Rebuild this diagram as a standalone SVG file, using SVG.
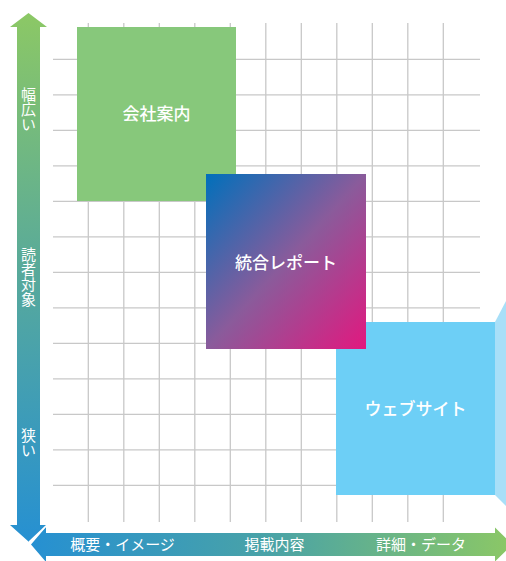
<svg xmlns="http://www.w3.org/2000/svg" width="506" height="561" viewBox="0 0 506 561">
<defs>
<linearGradient id="gV" x1="0" y1="0" x2="0" y2="1">
<stop offset="0" stop-color="#8cc865"/>
<stop offset="0.5" stop-color="#57a99c"/>
<stop offset="1" stop-color="#2690d2"/>
</linearGradient>
<linearGradient id="gH" x1="0" y1="0" x2="1" y2="0">
<stop offset="0" stop-color="#2690d2"/>
<stop offset="0.5" stop-color="#4aa3a6"/>
<stop offset="1" stop-color="#8cc865"/>
</linearGradient>
<linearGradient id="gR" x1="0" y1="0" x2="1" y2="1">
<stop offset="0" stop-color="#0070bb"/>
<stop offset="0.5" stop-color="#8a5b9b"/>
<stop offset="1" stop-color="#e2187f"/>
</linearGradient>
<style>
.grid line{stroke:#c8c8c8;stroke-width:1.3}
.lbl{font-family:"Noto Sans CJK JP","Noto Sans",sans-serif;fill:#ffffff;text-anchor:middle}
.box{font-size:17px;font-weight:500}
.ax{font-size:15px}
.vt{font-size:15px;writing-mode:vertical-rl;dominant-baseline:central}
</style>
</defs>
<rect width="506" height="561" fill="#ffffff"/>
<g class="grid" id="grid">
<line x1="88.3" y1="23" x2="88.3" y2="522"/>
<line x1="123.8" y1="23" x2="123.8" y2="522"/>
<line x1="159.3" y1="23" x2="159.3" y2="522"/>
<line x1="194.8" y1="23" x2="194.8" y2="522"/>
<line x1="230.3" y1="23" x2="230.3" y2="522"/>
<line x1="265.8" y1="23" x2="265.8" y2="522"/>
<line x1="301.3" y1="23" x2="301.3" y2="522"/>
<line x1="336.8" y1="23" x2="336.8" y2="522"/>
<line x1="372.3" y1="23" x2="372.3" y2="522"/>
<line x1="407.8" y1="23" x2="407.8" y2="522"/>
<line x1="443.3" y1="23" x2="443.3" y2="522"/>
<line x1="53" y1="59.3" x2="480" y2="59.3"/>
<line x1="53" y1="94.8" x2="480" y2="94.8"/>
<line x1="53" y1="130.3" x2="480" y2="130.3"/>
<line x1="53" y1="165.8" x2="480" y2="165.8"/>
<line x1="53" y1="201.3" x2="480" y2="201.3"/>
<line x1="53" y1="236.8" x2="480" y2="236.8"/>
<line x1="53" y1="272.3" x2="480" y2="272.3"/>
<line x1="53" y1="307.8" x2="480" y2="307.8"/>
<line x1="53" y1="343.3" x2="480" y2="343.3"/>
<line x1="53" y1="378.8" x2="480" y2="378.8"/>
<line x1="53" y1="414.3" x2="480" y2="414.3"/>
<line x1="53" y1="449.8" x2="480" y2="449.8"/>
<line x1="53" y1="485.3" x2="480" y2="485.3"/>
</g>
<g id="node-kaisha">
<rect x="77" y="27" width="159" height="174" fill="#87c87b"/>
<text class="lbl box" x="156.5" y="119.5">会社案内</text>
</g>
<g id="node-web">
<polygon points="495,322 506,301 506,506 495,495" fill="#a8dff8"/>
<rect x="336" y="322" width="159" height="173" fill="#6dcff6"/>
<text class="lbl box" x="415.5" y="415">ウェブサイト</text>
</g>
<g id="node-report">
<rect x="206" y="174" width="160" height="175" fill="url(#gR)"/>
<text class="lbl box" x="286" y="269">統合レポート</text>
</g>
<g id="axes">
<polygon points="46,527 31,544.5 46,562 46,556 495,556 495,527.5 512.5,544.5 495,561.5 495,533 46,533" fill="url(#gH)"/>
<polygon points="28.5,13 47,27 40,27 40,525 47,525 29,542 10,525 17,525 17,27 10,27" fill="url(#gV)"/>
<polyline points="47,525 29,542" fill="none" stroke="#ffffff" stroke-width="1.5"/>
</g>
<g id="labels">
<text class="lbl vt" x="28.5" y="109.5">幅広い</text>
<text class="lbl vt" x="28.5" y="276.5">読者対象</text>
<text class="lbl vt" x="28.5" y="442.5">狭い</text>
<text class="lbl ax" x="122.5" y="550">概要・イメージ</text>
<text class="lbl ax" x="274.5" y="550">掲載内容</text>
<text class="lbl ax" x="421" y="550">詳細・データ</text>
</g>
</svg>
